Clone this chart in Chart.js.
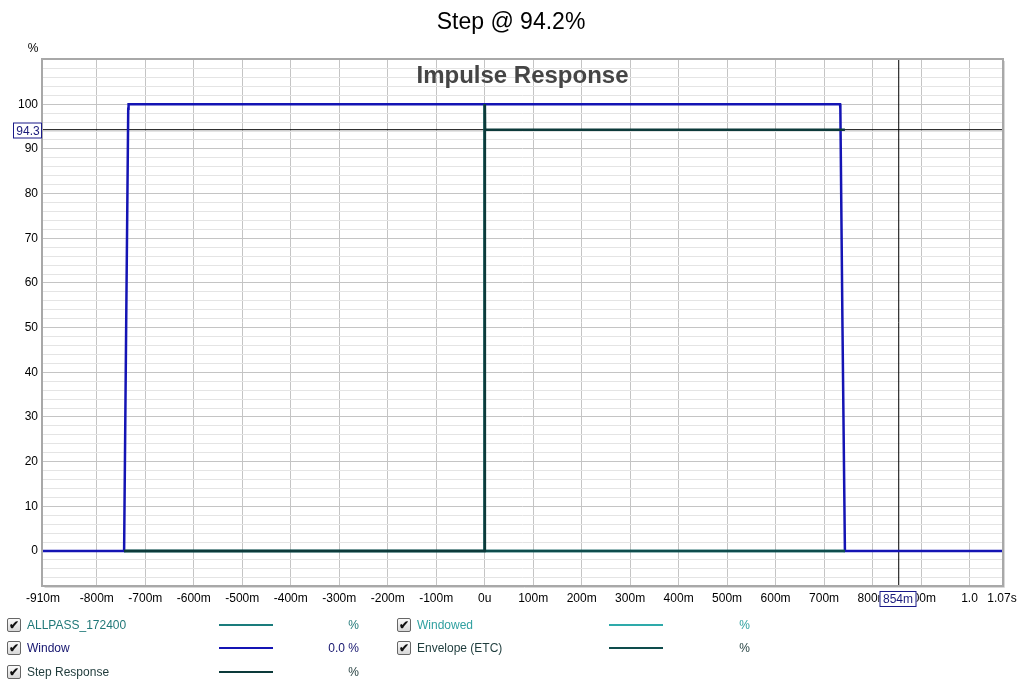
<!DOCTYPE html>
<html>
<head>
<meta charset="utf-8">
<script src="https://cdn.jsdelivr.net/npm/chart.js@4"></script>
<style>
  html, body { margin: 0; padding: 0; background: #fff; }
  #wrap { position: relative; width: 1024px; height: 687px; font-family: "Liberation Sans", Arial, sans-serif; }
  canvas { position: absolute; left: 0; top: 0; }
  .lg { position: absolute; font-size: 12px; line-height: 14px; white-space: nowrap; }
  .cb { position: absolute; width: 12px; height: 12px; border: 1px solid #666; border-radius: 2px;
        background: linear-gradient(#fafafa, #d8d8d8); font-size: 12px; line-height: 12px; text-align: center;
        color: #111; font-weight: bold; }
  .sw { position: absolute; height: 2px; }
  .val { position: absolute; font-size: 12px; text-align: right; width: 80px; }
</style>
</head>
<body>
<div id="wrap">
  <canvas id="chart" width="1024" height="687"></canvas>
  <div id="legend"></div>
</div>
<script>
// time in seconds, level in %
const windowX = [-0.911, -0.7437, -0.7395, -0.7352, -0.7345, 0.7330, 0.7336, 0.7380, 0.7430, 1.067];
const windowY = [0, 0, 50, 99, 100, 100, 99, 50, 0, 0];

const allpassX = [-0.7437, -0.0004, 0, 0.0004, 0.7430];
const allpassY = [0, 0, 100, 0, 0];

const envelopeX = [-0.7437, -0.0004, 0, 0.0004, 0.7430];
const envelopeY = [0, 0, 100, 0, 0];

const stepX = [-0.7437, -0.0002, 0, 0.0006, 0.0008, 0.7430];
const stepY = [0, 0, 100, 100, 94.3, 94.3];

const cursorX = 0.854;
const cursorY = 94.3;

const xTicks = [-0.911, -0.8, -0.7, -0.6, -0.5, -0.4, -0.3, -0.2, -0.1, 0, 0.1, 0.2, 0.3, 0.4, 0.5, 0.6, 0.7, 0.8, 0.9, 1.0, 1.067];
const xTickLabels = ['-910m', '-800m', '-700m', '-600m', '-500m', '-400m', '-300m', '-200m', '-100m', '0u',
  '100m', '200m', '300m', '400m', '500m', '600m', '700m', '800m', '900m', '1.0', '1.07s'];
const yLabels = [0, 10, 20, 30, 40, 50, 60, 70, 80, 90, 100];

const xMin = -0.911, xMax = 1.067, yMin = -7.6, yMax = 109.9;

const legendItems = [
  {name: 'ALLPASS_172400', color: '#1a7c7c', text: '#207878', value: '%', col: 0, row: 0},
  {name: 'Window', color: '#1414b4', text: '#14146e', value: '0.0 %', col: 0, row: 1},
  {name: 'Step Response', color: '#0c3a3a', text: '#1e3a3a', value: '%', col: 0, row: 2},
  {name: 'Windowed', color: '#2eaaaa', text: '#30a0a0', value: '%', col: 1, row: 0},
  {name: 'Envelope (ETC)', color: '#0e4c4c', text: '#1e3c3c', value: '%', col: 1, row: 1}
];

function pts(xs, ys) { return xs.map((x, i) => ({x: x, y: ys[i]})); }

const yGrid = [];
for (let v = -6; v <= 108; v += 2) yGrid.push(v);

const decor = {
  id: 'decor',
  beforeDraw(chart) {
    const c = chart.ctx, a = chart.chartArea;
    c.save();
    c.fillStyle = '#fff';
    c.fillRect(a.left, a.top, a.right - a.left, a.bottom - a.top);
    c.restore();
  },
  afterDraw(chart) {
    const c = chart.ctx, a = chart.chartArea;
    const xs = chart.scales.x, ys = chart.scales.y;
    c.save();
    // frame
    c.strokeStyle = '#a8a8a8';
    c.lineWidth = 2;
    c.strokeRect(a.left - 1, a.top - 1, a.right - a.left + 2, a.bottom - a.top + 2);
    c.strokeStyle = '#d8d8d8';
    c.lineWidth = 1;
    c.beginPath();
    c.moveTo(a.left + 1.5, a.bottom + 2.5); c.lineTo(a.right + 2.5, a.bottom + 2.5); c.lineTo(a.right + 2.5, a.top + 1);
    c.stroke();

    // titles
    c.fillStyle = '#000';
    c.font = '23px "Liberation Sans", Arial, sans-serif';
    c.textAlign = 'center';
    c.textBaseline = 'middle';
    c.fillText('Step @ 94.2%', 511, 23);
    c.fillStyle = '#454545';
    c.font = 'bold 24px "Liberation Sans", Arial, sans-serif';
    c.fillText('Impulse Response', 522.5, 76);
    c.fillStyle = '#000';
    c.font = '12px "Liberation Sans", Arial, sans-serif';
    c.fillText('%', 33, 49);

    // cursor readouts
    const cy = Math.round(ys.getPixelForValue(cursorY)) + 0.5;
    c.fillStyle = '#fff';
    c.fillRect(13, cy - 8, 29, 16);
    c.strokeStyle = '#1a1a8a';
    c.lineWidth = 1;
    c.strokeRect(13.5, cy - 7.5, 28, 15);
    c.fillStyle = '#1a1a7a';
    c.textAlign = 'center';
    c.fillText(cursorY.toFixed(1), 28, cy + 1);

    const cx = Math.round(xs.getPixelForValue(cursorX)) + 0.5;
    c.fillStyle = '#fff';
    c.fillRect(cx - 20, 591, 37, 16);
    c.strokeRect(cx - 19.5, 591.5, 36, 15);
    c.fillStyle = '#1a1a7a';
    c.fillText(Math.round(cursorX * 1000) + 'm', cx - 1.5, 599.5);
    c.restore();
  }
};

const ctx = document.getElementById('chart').getContext('2d');
const chart = new Chart(ctx, {
  type: 'scatter',
  data: {
    // first dataset ends up on top
    datasets: [
      {label: 'Step Response', data: pts(stepX, stepY), borderColor: legendItems[2].color, borderWidth: 2.5},
      {label: 'Envelope (ETC)', data: pts(envelopeX, envelopeY), borderColor: legendItems[4].color, borderWidth: 2.5},
      {label: 'ALLPASS_172400', data: pts(allpassX, allpassY), borderColor: legendItems[0].color, borderWidth: 2.5},
      {label: 'Window', data: pts(windowX, windowY), borderColor: legendItems[1].color, borderWidth: 2.5},
      {label: 'Windowed', data: pts(allpassX, allpassY), borderColor: legendItems[3].color, borderWidth: 2},
      {label: 'cursorH', data: [{x: xMin, y: cursorY}, {x: xMax, y: cursorY}], borderColor: '#000', borderWidth: 1},
      {label: 'cursorV', data: [{x: cursorX, y: yMin}, {x: cursorX, y: yMax}], borderColor: '#000', borderWidth: 1}
    ]
  },
  options: {
    responsive: false,
    animation: false,
    showLine: true,
    elements: {point: {radius: 0}, line: {tension: 0}},
    layout: {padding: {left: 0, right: 22, top: 60, bottom: 77}},
    plugins: {legend: {display: false}, tooltip: {enabled: false}, title: {display: false}},
    scales: {
      x: {
        type: 'linear', min: xMin, max: xMax,
        afterBuildTicks: s => { s.ticks = xTicks.map(v => ({value: v})); },
        afterFit: s => { s.height = 25; },
        ticks: {
          autoSkip: false, maxRotation: 0, padding: 6, color: '#000',
          font: {family: '"Liberation Sans", Arial, sans-serif', size: 12},
          callback: (v, i) => xTickLabels[i]
        },
        grid: {
          drawTicks: false,
          color: c => (c.index === 0 || c.index === xTicks.length - 1) ? 'rgba(0,0,0,0)' : '#c4c4c4'
        },
        border: {display: false}
      },
      y: {
        type: 'linear', min: yMin, max: yMax,
        afterBuildTicks: s => { s.ticks = yGrid.map(v => ({value: v})); },
        afterFit: s => { s.width = 43; },
        ticks: {
          autoSkip: false, padding: 5, color: '#000',
          font: {family: '"Liberation Sans", Arial, sans-serif', size: 12},
          callback: v => yLabels.includes(v) ? String(v) : ''
        },
        grid: {
          drawTicks: false,
          color: c => (c.tick && c.tick.value % 10 === 0) ? '#c4c4c4' : '#e4e4e4'
        },
        border: {display: false}
      }
    }
  },
  plugins: [decor]
});

// legend below the plot
const legend = document.getElementById('legend');
const colX = [[7, 27, 219, 279], [397, 417, 609, 670]];
const rowY = [618, 641, 665];
legendItems.forEach(it => {
  const [bx, tx, sx, vx] = colX[it.col];
  const y = rowY[it.row];
  const cb = document.createElement('div');
  cb.className = 'cb';
  cb.style.left = bx + 'px'; cb.style.top = y + 'px';
  cb.textContent = '\u2714';
  legend.appendChild(cb);
  const lb = document.createElement('div');
  lb.className = 'lg';
  lb.style.left = tx + 'px'; lb.style.top = y + 'px';
  lb.style.color = it.text;
  lb.textContent = it.name;
  legend.appendChild(lb);
  const sw = document.createElement('div');
  sw.className = 'sw';
  sw.style.left = sx + 'px'; sw.style.top = (y + 6) + 'px';
  sw.style.width = '54px'; sw.style.background = it.color;
  legend.appendChild(sw);
  const vl = document.createElement('div');
  vl.className = 'val';
  vl.style.left = vx + 'px'; vl.style.top = y + 'px';
  vl.style.color = it.text;
  vl.textContent = it.value;
  legend.appendChild(vl);
});
</script>
</body>
</html>
